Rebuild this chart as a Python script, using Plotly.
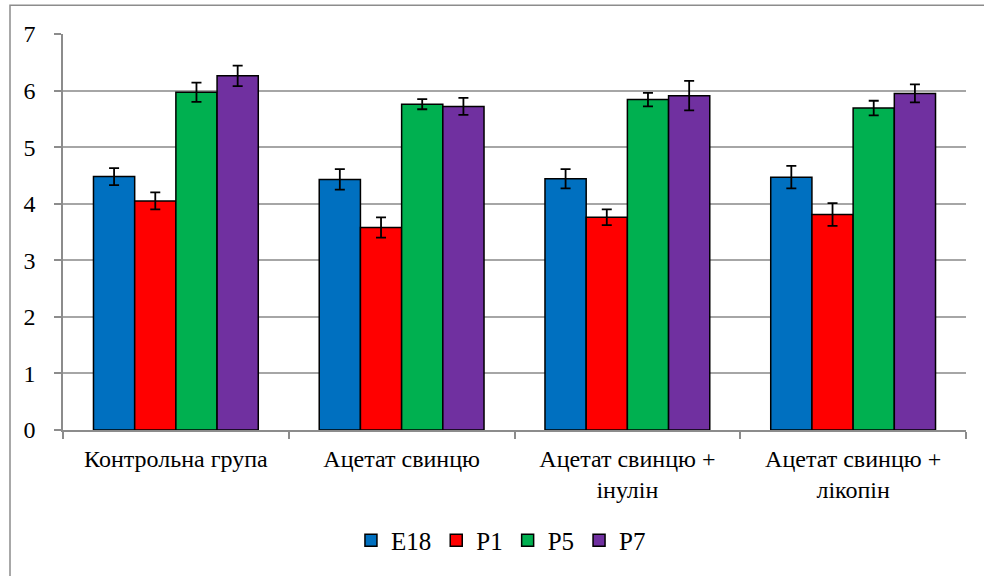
import plotly.graph_objects as go

categories = ["Контрольна група", "Ацетат свинцю", "Ацетат свинцю +<br>інулін", "Ацетат свинцю +<br>лікопін"]
series_names = ["E18", "P1", "P5", "P7"]
e18 = [4.48, 4.43, 4.44, 4.47]
p1 = [4.05, 3.58, 3.76, 3.81]
p5 = [5.97, 5.76, 5.84, 5.69]
p7 = [6.26, 5.72, 5.91, 5.95]
e18_err = [0.15, 0.18, 0.17, 0.20]
p1_err = [0.15, 0.18, 0.14, 0.20]
p5_err = [0.17, 0.09, 0.12, 0.13]
p7_err = [0.18, 0.15, 0.26, 0.16]
y_ticks = [0, 1, 2, 3, 4, 5, 6, 7]

colors = ["#0070C0", "#FF0000", "#00B050", "#7030A0"]
values = [e18, p1, p5, p7]
errors = [e18_err, p1_err, p5_err, p7_err]

FONT = "Liberation Serif, Times New Roman, serif"

fig = go.Figure()
for name, vals, errs, col in zip(series_names, values, errors, colors):
    fig.add_trace(go.Bar(
        name=name, x=categories, y=vals,
        marker=dict(color=col, line=dict(color="black", width=1.5)),
        error_y=dict(type="data", array=errs, visible=True, color="black", thickness=1.8, width=5),
    ))

L, R, T, B = 63, 18, 34, 144
W, H = 984, 576
pw = W - L - R
ph = H - T - B

fig.update_layout(
    width=W, height=H,
    margin=dict(l=L, r=R, t=T, b=B),
    paper_bgcolor="white", plot_bgcolor="white",
    barmode="group", bargap=0.27, bargroupgap=0,
    font=dict(family=FONT, size=24, color="black"),
    showlegend=True,
    legend=dict(orientation="h", x=0.485, xanchor="center", y=(432 - 543) / ph, yanchor="middle",
                font=dict(family=FONT, size=25), itemwidth=30, traceorder="normal"),
    xaxis=dict(showline=True, linecolor="#8C8C8C", linewidth=1.5, ticks="outside", tickson="boundaries",
               ticklen=7, tickcolor="#8C8C8C", tickwidth=1.5, tickfont=dict(family=FONT, size=24),
               ticklabelstandoff=6, showgrid=False),
    yaxis=dict(range=[0, 7], tickvals=y_ticks, showline=True, linecolor="#8C8C8C", linewidth=1.5,
               ticks="outside", ticklen=7, tickcolor="#8C8C8C", tickwidth=1.5,
               showgrid=True, gridcolor="#A6A6A6", gridwidth=1.5, zeroline=False,
               tickfont=dict(family=FONT, size=24), ticklabelstandoff=14),
    shapes=[dict(type="rect", xref="paper", yref="paper",
                 x0=(10 - L) / pw, x1=(W + 10 - L) / pw,
                 y0=(H - B - (H + 10)) / ph, y1=(H - B - 5) / ph,
                 line=dict(color="#8C8C8C", width=1.5), fillcolor="rgba(0,0,0,0)", layer="below")],
)

fig.write_html("out.html", config={"displayModeBar": False},
               post_script="document.body.style.margin='0';document.body.style.overflow='hidden';")
